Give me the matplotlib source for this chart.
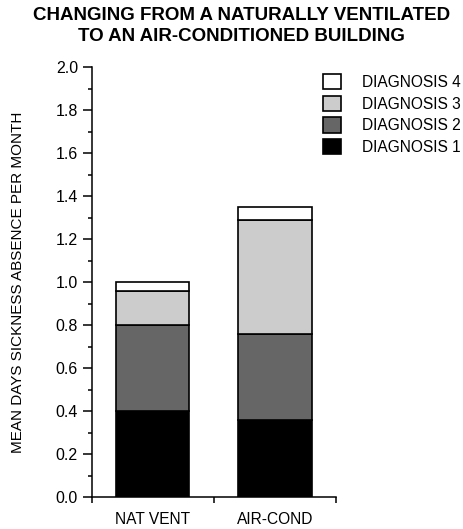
import matplotlib
matplotlib.use("Agg")
import matplotlib.pyplot as plt
from matplotlib.patches import Patch
from matplotlib.ticker import MultipleLocator

plt.rcParams['font.family'] = ['Liberation Sans', 'DejaVu Sans']

categories = ["NAT VENT", "AIR-COND"]
series_names = ["DIAGNOSIS 1", "DIAGNOSIS 2", "DIAGNOSIS 3", "DIAGNOSIS 4"]
diag1 = [0.40, 0.36]
diag2 = [0.40, 0.40]
diag3 = [0.16, 0.53]
diag4 = [0.04, 0.06]
colors = ["#000000", "#666666", "#cccccc", "#ffffff"]

fig = plt.figure(figsize=(4.64, 5.29), dpi=100)
ax = fig.add_axes([0.198, 0.0605, 0.526, 0.8125])

x = [0.5, 1.5]
bottom = [0.0, 0.0]
handles = []
for vals, col, name in zip([diag1, diag2, diag3, diag4], colors, series_names):
    ax.bar(x, vals, bottom=bottom, width=0.6, color=col, edgecolor="black", linewidth=1.2)
    bottom = [b + v for b, v in zip(bottom, vals)]
    handles.append(Patch(facecolor=col, edgecolor="black", linewidth=1.2, label=name))

ax.set_xlim(0, 2)
ax.set_ylim(0, 2.0)
ax.spines['top'].set_visible(False)
ax.spines['right'].set_visible(False)
ax.spines['left'].set_linewidth(1.1)
ax.spines['bottom'].set_linewidth(1.1)

ax.yaxis.set_major_locator(MultipleLocator(0.2))
ax.yaxis.set_minor_locator(MultipleLocator(0.1))
ax.yaxis.set_major_formatter(matplotlib.ticker.FormatStrFormatter('%.1f'))
ax.tick_params(axis='y', which='major', length=6.5, width=1.1, labelsize=11.5, pad=3.5)
ax.tick_params(axis='y', which='minor', length=3, width=1.1)

ax.set_xticks([0, 1, 2])
ax.set_xticklabels(["", "", ""])
ax.tick_params(axis='x', which='major', length=4, width=1.1)
ax.set_xticks(x, minor=True)
ax.set_xticklabels(categories, minor=True)
ax.tick_params(axis='x', which='minor', length=0, labelsize=11.2, pad=11)

ax.set_ylabel("MEAN DAYS SICKNESS ABSENCE PER MONTH", fontsize=11, labelpad=22)

fig.text(0.52, 0.987, "CHANGING FROM A NATURALLY VENTILATED\nTO AN AIR-CONDITIONED BUILDING",
         ha='center', va='top', fontsize=13.5, fontweight='bold', linespacing=1.3)

fig.legend(handles=handles[::-1], loc='upper left', bbox_to_anchor=(0.697, 0.86),
           frameon=False, fontsize=11.2, handlelength=1.15, handleheight=1.15,
           handletextpad=1.35, labelspacing=0.36, borderpad=0, borderaxespad=0)

fig.savefig("out.png", dpi=100)
